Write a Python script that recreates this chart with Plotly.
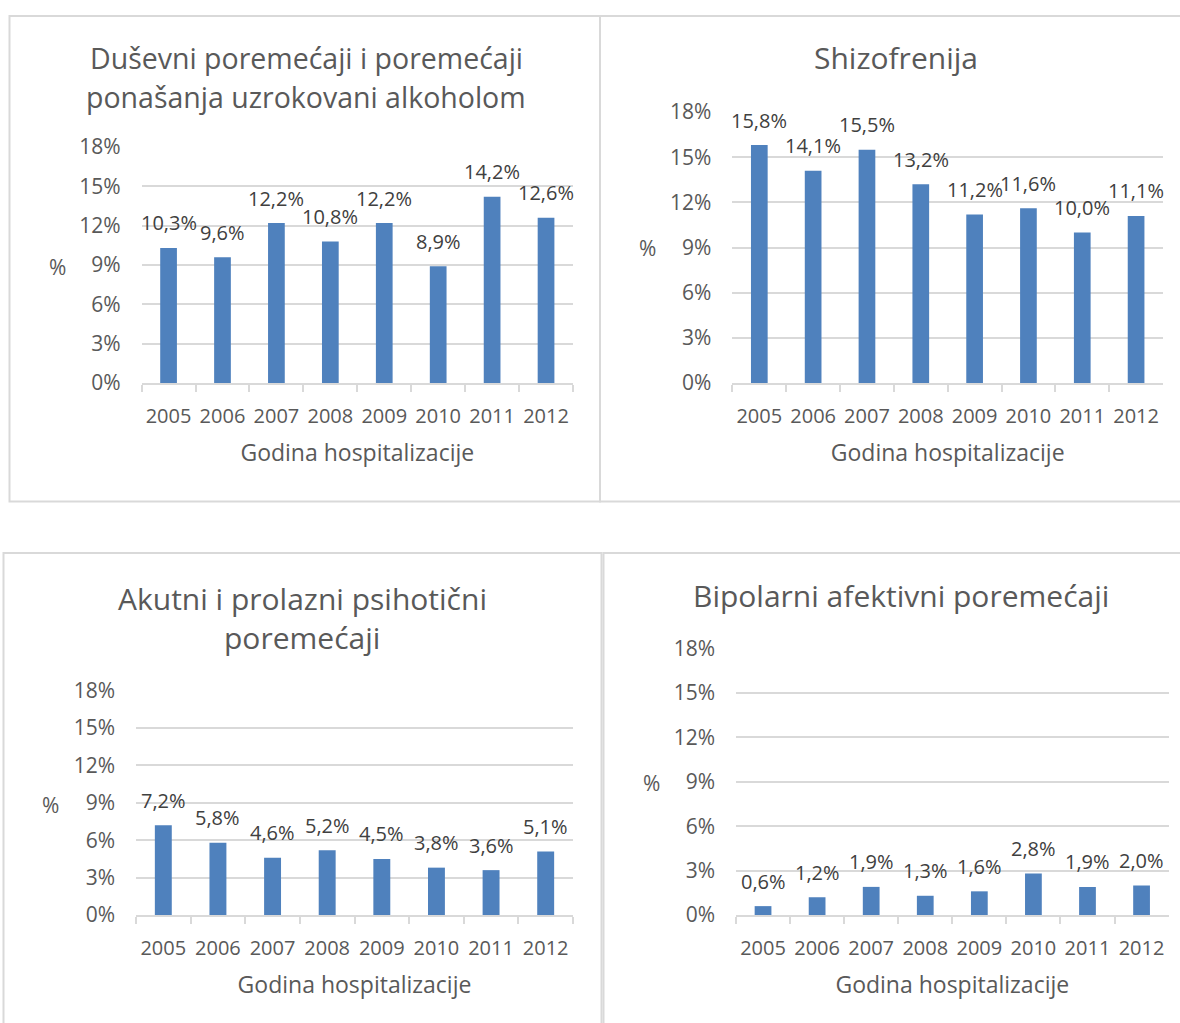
import plotly.graph_objects as go

# ---------------- data ----------------
years = ["2005", "2006", "2007", "2008", "2009", "2010", "2011", "2012"]

alkohol = [10.3, 9.6, 12.2, 10.8, 12.2, 8.9, 14.2, 12.6]
shizofrenija = [15.8, 14.1, 15.5, 13.2, 11.2, 11.6, 10.0, 11.1]
akutni = [7.2, 5.8, 4.6, 5.2, 4.5, 3.8, 3.6, 5.1]
bipolarni = [0.6, 1.2, 1.9, 1.3, 1.6, 2.8, 1.9, 2.0]

titles = [
    "Duševni poremećaji i poremećaji<br>ponašanja uzrokovani alkoholom",
    "Shizofrenija",
    "Akutni i prolazni psihotični<br>poremećaji",
    "Bipolarni afektivni poremećaji",
]
x_title = "Godina hospitalizacije"
y_title = "%"
y_ticks = [0, 3, 6, 9, 12, 15, 18]

series = [alkohol, shizofrenija, akutni, bipolarni]

# ---------------- layout constants ----------------
W, H = 1180, 1023
FONT = "Open Sans"
BAR = "#4F81BD"
GRID = "#D9D9D9"
TXT = "#595959"
LBL = "#404040"

# plot areas in pixels: (x0, x1, ytop, ybottom)
areas = [
    (141.6, 573.0, 147.0, 383.0),
    (732.4, 1163.0, 112.0, 383.0),
    (136.0, 573.0, 690.7, 915.0),
    (736.0, 1168.6, 648.7, 915.0),
]
# title centers (x, y) and line pitch
title_pos = [(306, 77.5), (896, 58), (302, 617.5), (901, 595)]
title_size = [28.5, 30, 30, 30]
LINE_PITCH = 39
# y-axis "%" label centers
ylab_pos = [(57, 267), (647, 248), (50, 805), (651, 783)]
# panel borders (x0, y0, x1, y1) pixels
borders = [
    (9.5, 16, 600, 501.5),
    (600, 16, 1190, 501.5),
    (3.5, 553, 601.5, 1035),
    (603.5, 553, 1190, 1035),
]
LABEL_LIFT = 25  # px between bar top and data-label centre


def px(x):
    return x / W


def py(y):
    return 1 - y / H


def fmt(v):
    return f"{v:.1f}%".replace(".", ",")


fig = go.Figure()
annotations = []
shapes = []

for i, vals in enumerate(series):
    n = "" if i == 0 else str(i + 1)
    fig.add_trace(
        go.Bar(
            x=years,
            y=vals,
            xaxis="x" + n,
            yaxis="y" + n,
            marker=dict(color=BAR, line=dict(width=0)),
            showlegend=False,
            hovertemplate="%{x}: %{y:.1f}%<extra></extra>",
        )
    )
    # data labels, anchored to the data through the subplot's axes
    # (on a category axis a numeric x is the category's index)
    for ci, v in enumerate(vals):
        annotations.append(
            dict(
                text=fmt(v), x=ci, y=v, xref="x" + n, yref="y" + n,
                xanchor="center", yanchor="middle", yshift=LABEL_LIFT,
                showarrow=False, font=dict(family=FONT, size=20, color=LBL),
            )
        )
    x0, x1, yt, yb = areas[i]
    fig.layout["xaxis" + n] = dict(
        domain=[px(x0), px(x1)],
        anchor="y" + n,
        type="category",
        categoryorder="array",
        categoryarray=years,
        range=[-0.5, len(years) - 0.5],
        autorange=False,
        showline=True,
        linecolor=GRID,
        linewidth=1.5,
        ticks="outside",
        tickson="boundaries",
        ticklen=7,
        tickcolor=GRID,
        tickwidth=1.5,
        tickangle=0,
        showgrid=False,
        tickfont=dict(family=FONT, size=20, color=TXT),
        ticklabelstandoff=14,
        title=dict(text=x_title, font=dict(family=FONT, size=23, color=TXT), standoff=17),
        automargin=False,
        fixedrange=True,
    )
    fig.layout["yaxis" + n] = dict(
        domain=[py(yb), py(yt)],
        anchor="x" + n,
        range=[0, 18],
        autorange=False,
        tickvals=y_ticks,
        ticktext=[f"{t}%" for t in y_ticks],
        showgrid=True,
        gridcolor=GRID,
        gridwidth=1.5,
        zeroline=False,
        showline=False,
        ticks="",
        ticklabelstandoff=20,
        tickfont=dict(family=FONT, size=21, color=TXT),
        automargin=False,
        fixedrange=True,
    )
    tx, ty = title_pos[i]
    lines = titles[i].split("<br>")
    for k, line in enumerate(lines):
        ly_ = ty + LINE_PITCH * (k - (len(lines) - 1) / 2)
        annotations.append(
            dict(
                text=line, x=px(tx), y=py(ly_), xref="paper", yref="paper",
                xanchor="center", yanchor="middle", showarrow=False,
                font=dict(family=FONT, size=title_size[i], color=TXT),
            )
        )
    lx, ly = ylab_pos[i]
    annotations.append(
        dict(
            text=y_title, x=px(lx), y=py(ly), xref="paper", yref="paper",
            xanchor="center", yanchor="middle", showarrow=False,
            font=dict(family=FONT, size=21, color=TXT),
        )
    )
    bx0, by0, bx1, by1 = borders[i]
    shapes.append(
        dict(
            type="rect", xref="paper", yref="paper",
            x0=px(bx0), x1=px(bx1), y0=py(by1), y1=py(by0),
            line=dict(color=GRID, width=2), fillcolor="rgba(0,0,0,0)", layer="below",
        )
    )

fig.update_layout(
    width=W,
    height=H,
    margin=dict(l=0, r=0, t=0, b=0),
    paper_bgcolor="white",
    plot_bgcolor="white",
    bargap=0.69,
    annotations=annotations,
    shapes=shapes,
    font=dict(family=FONT, color=TXT),
    template="none",
)

fig.write_html(
    "out.html",
    config={"displayModeBar": False},
    post_script="document.body.style.margin='0';document.body.style.overflow='hidden';",
)
